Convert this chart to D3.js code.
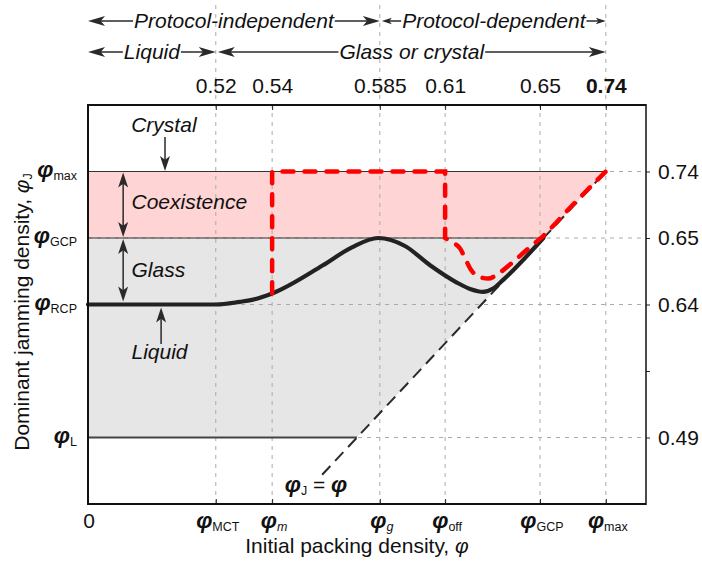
<!DOCTYPE html>
<html><head><meta charset="utf-8">
<script src="https://cdn.jsdelivr.net/npm/d3@7"></script>
<style>
body{margin:0;background:#fff}
svg{display:block}
text{font-family:"Liberation Sans",Arial,Helvetica,sans-serif;fill:#111}
</style></head>
<body><svg id="c" width="702" height="563"></svg>
<script>
// ---------- data (schematic units: x in % of plot width, y in levels) ----------
const xTickPos      = [0, 22.9, 33.0, 52.3, 64.0, 81.0, 92.8];
const xTickSubs     = ["", "MCT", "m", "g", "off", "GCP", "max"];
const xTickSubItal  = [false, false, true, true, false, false, false];
const xTopLabels    = ["", "0.52", "0.54", "0.585", "0.61", "0.65", "0.74"];
const yLevels       = [1, 2, 3, 4, 5];
const yRightLabels  = ["0.49", "", "0.64", "0.65", "0.74"];
const yLeftSubs     = ["L", null, "RCP", "GCP", "max"];

const jammingCurve = [[0,3],[11,3],[22.9,3],[27.2,3.04],[29.4,3.07],[33.1,3.17],[42.1,3.59],[47.3,3.86],
  [52.0,4.0],[56.8,3.88],[61.3,3.59],[66.1,3.33],[68.6,3.23],[70.8,3.19],[72.6,3.24],[74.4,3.37],[81.6,4.0]];
const protocolStep   = [[33.0,3.17],[33.0,5],[64.0,5],[64.0,4.0]];
const protocolSmooth = [[64.0,4.0],[65.2,3.94],[66.7,3.84],[67.6,3.69],[68.5,3.54],[70.0,3.42],[71.7,3.39],
  [73.8,3.48],[75.9,3.62],[78.6,3.82],[81.3,4.01],[86.9,4.5],[92.8,5.0]];
const diagonalLine   = [[41.96,0.44],[92.8,5]];
const glassRegion    = [[0,1],[0,4],[81.6,4],[48.2,1]];
const coexRegion     = [[0,4],[0,5],[92.8,5],[81.6,4]];

// ---------- setup ----------
const svg = d3.select("#c");
const x = d3.scaleLinear().domain([0,100]).range([88,646]);
const y = d3.scaleLinear().domain([0,6]).range([504,105]);
const line = d3.line().x(d=>x(d[0])).y(d=>y(d[1]));
const FS = 21, PHI = 23, SUB = 12.5;

// fills
svg.append("path").attr("d", line(glassRegion)+"Z").attr("fill","#e6e6e6");
svg.append("path").attr("d", line(coexRegion)+"Z").attr("fill","#ffd4d4");

// gridlines
const grid = svg.append("g").attr("stroke","#aaa").attr("stroke-width",1).attr("stroke-dasharray","4,5");
xTickPos.slice(1).forEach((v,i)=>{
  const ext = (i===0||i===2||i===5);
  grid.append("line").attr("x1",x(v)).attr("x2",x(v)).attr("y1",y(0)).attr("y2", ext?0:y(6));
});
[1,3,4,5].forEach(v=>{
  grid.append("line").attr("x1",x(0)).attr("x2",x(100)).attr("y1",y(v)).attr("y2",y(v));
});

// boundary lines
svg.append("line").attr("x1",x(0)).attr("x2",x(92.8)).attr("y1",y(5)).attr("y2",y(5)).attr("stroke","#333").attr("stroke-width",1.2);
svg.append("line").attr("x1",x(0)).attr("x2",x(81.6)).attr("y1",y(4)).attr("y2",y(4)).attr("stroke","#333").attr("stroke-width",1.2);
svg.append("line").attr("x1",x(0)).attr("x2",x(48.2)).attr("y1",y(1)).attr("y2",y(1)).attr("stroke","#444").attr("stroke-width",2);

// diagonal phi_J = phi
svg.append("path").attr("d", line(diagonalLine)).attr("fill","none").attr("stroke","#2a2a2a")
  .attr("stroke-width",2).attr("stroke-dasharray","12,7");

// black curve
const lineS = d3.line().x(d=>x(d[0])).y(d=>y(d[1])).curve(d3.curveMonotoneX);
svg.append("path").attr("d", lineS(jammingCurve)).attr("fill","none")
  .attr("stroke","#222").attr("stroke-width",4.2).attr("stroke-linecap","round");

// red dashed
const redD = line(protocolStep) + lineS(protocolSmooth).replace(/^M[^A-Za-z]*/,"");
svg.append("path").attr("d", redD).attr("fill","none").attr("stroke","#ff0000")
  .attr("stroke-width",4.5).attr("stroke-dasharray","11,11").attr("stroke-linecap","round");

// ---------- arrows ----------
function arrow(g, x1,y1,x2,y2, hl, hw, both){
  const col="#2a2a2a";
  const head=(ax,ay,bx,by)=>{
    const dx=bx-ax, dy=by-ay, L=Math.hypot(dx,dy), ux=dx/L, uy=dy/L;
    const px=-uy, py=ux;
    const b1x=bx-ux*hl, b1y=by-uy*hl;
    g.append("path").attr("d",`M${bx},${by}L${b1x+px*hw},${b1y+py*hw}L${b1x+ux*hl*0.25},${b1y+uy*hl*0.25}L${b1x-px*hw},${b1y-py*hw}Z`).attr("fill",col);
  };
  const dx=x2-x1, dy=y2-y1, L=Math.hypot(dx,dy);
  const s = both? hl*0.7 : 0;
  g.append("line").attr("x1",x1+dx/L*s).attr("y1",y1+dy/L*s).attr("x2",x2-dx/L*hl*0.7).attr("y2",y2-dy/L*hl*0.7)
    .attr("stroke",col).attr("stroke-width",1.5);
  head(x1,y1,x2,y2);
  if(both) head(x2,y2,x1,y1);
}
const ann = svg.append("g");

// inner annotations
function itext(t, xx, yy, anchor){
  return ann.append("text").attr("x",xx).attr("y",yy).attr("font-size",FS).attr("font-style","italic")
    .attr("text-anchor",anchor||"start").text(t);
}
itext("Crystal", x(13.6), 132, "middle");
arrow(ann, x(13.8), 137, x(13.8), y(5)-0.5, 15, 5, false);
arrow(ann, x(6.3), y(5)+1, x(6.3), y(4)-1, 15, 5, true);
arrow(ann, x(6.3), y(4)+1, x(6.3), y(3)-3, 15, 5, true);
itext("Coexistence", 131.5, 209);
itext("Glass", 131.5, 277);
itext("Liquid", 131.5, 359);
arrow(ann, x(13.1), 344, x(13.1), y(3)+3, 15, 5, false);

// top annotation rows
function labeledArrow(t, xa, xb, yy, base, hl, hw, hl2, hw2){
  const tx = ann.append("text").attr("x",(xa+xb)/2).attr("y",base).attr("font-size",FS)
    .attr("font-style","italic").attr("text-anchor","middle").text(t);
  const w = tx.node().getComputedTextLength();
  const l = (xa+xb)/2 - w/2 - 1, r = (xa+xb)/2 + w/2 + 1;
  arrow(ann, l, yy, xa, yy, hl, hw, false);
  arrow(ann, r, yy, xb, yy, hl2||hl, hw2||hw, false);
}
labeledArrow("Protocol-independent", x(0), x(52.3), 21, 28, 17, 5);
labeledArrow("Protocol-dependent", x(52.3)+2, x(92.8), 21, 28, 10, 3.2);
labeledArrow("Liquid", x(0), x(22.9), 52, 59, 17, 5);
labeledArrow("Glass or crystal", x(22.9)+2, x(92.8), 52, 59, 17, 5);

// ---------- axes / frame ----------
const axT = svg.append("g").attr("transform",`translate(0,${y(6)})`)
  .call(d3.axisTop(x).tickValues(xTickPos).tickSize(-5).tickPadding(12).tickFormat((d,i)=>xTopLabels[i]));
axT.select(".domain").remove();
axT.selectAll("text").attr("font-size",FS).attr("fill","#111").attr("font-family",null)
  .attr("font-weight",(d,i)=>i===6?"bold":null);
axT.selectAll("line").attr("stroke","#222");

const axB = svg.append("g").attr("transform",`translate(0,${y(0)})`)
  .call(d3.axisBottom(x).tickValues(xTickPos).tickSize(-5).tickFormat(""));
axB.select(".domain").remove();
axB.selectAll("line").attr("stroke","#222");

const axR = svg.append("g").attr("transform",`translate(${x(100)},0)`)
  .call(d3.axisRight(y).tickValues(yLevels).tickSize(4).tickPadding(8).tickFormat((d,i)=>yRightLabels[i]));
axR.select(".domain").remove();
axR.selectAll("text").attr("font-size",FS).attr("fill","#111").attr("font-family",null);
axR.selectAll("line").attr("stroke","#222");

// frame
svg.append("line").attr("x1",x(0)).attr("x2",x(100)).attr("y1",y(6)).attr("y2",y(6)).attr("stroke","#111").attr("stroke-width",2);
svg.append("line").attr("x1",x(0)).attr("x2",x(100)).attr("y1",y(0)).attr("y2",y(0)).attr("stroke","#111").attr("stroke-width",2);
svg.append("line").attr("x1",x(0)).attr("x2",x(0)).attr("y1",y(6)-1).attr("y2",y(0)+1).attr("stroke","#111").attr("stroke-width",2);
svg.append("line").attr("x1",x(100)).attr("x2",x(100)).attr("y1",y(6)-1).attr("y2",y(0)+1).attr("stroke","#111").attr("stroke-width",1.5);

// phi labels
function phiLabel(g, xx, yy, sub, subItal, anchor){
  const t = g.append("text").attr("x",xx).attr("y",yy).attr("font-size",FS).attr("text-anchor",anchor);
  t.append("tspan").attr("font-size",PHI).attr("font-weight","bold").attr("font-style","italic").text("φ");
  if(sub) t.append("tspan").attr("font-size",SUB).attr("dy",3).attr("font-style",subItal?"italic":null).text(sub);
  return t;
}
const lab = svg.append("g");
xTickPos.forEach((v,i)=>{
  if(i===0) lab.append("text").attr("x",x(v)+1).attr("y",528).attr("font-size",FS).attr("text-anchor","middle").text("0");
  else phiLabel(lab, x(v)+2, 528, xTickSubs[i], xTickSubItal[i], "middle");
});
yLevels.forEach((v,i)=>{
  if(yLeftSubs[i]) phiLabel(lab, 77, y(v)+5, yLeftSubs[i], false, "end");
});
// phi_J = phi
const pj = lab.append("text").attr("x",316).attr("y",492).attr("font-size",FS).attr("text-anchor","middle");
pj.append("tspan").attr("font-size",PHI).attr("font-weight","bold").attr("font-style","italic").text("φ");
pj.append("tspan").attr("font-size",SUB).attr("dy",3).text("J");
pj.append("tspan").attr("dy",-3).text(" = ");
pj.append("tspan").attr("font-size",PHI).attr("font-weight","bold").attr("font-style","italic").text("φ");

// axis titles
const xt = lab.append("text").attr("x",357).attr("y",553).attr("font-size",FS).attr("text-anchor","middle");
xt.append("tspan").text("Initial packing density, ");
xt.append("tspan").attr("font-style","italic").text("φ");
const yt = lab.append("text").attr("transform","translate(29,312) rotate(-90)").attr("font-size",FS).attr("text-anchor","middle");
yt.append("tspan").text("Dominant jamming density, ");
yt.append("tspan").attr("font-style","italic").text("φ");
yt.append("tspan").attr("font-size",SUB).attr("dy",3).text("J");
</script></body></html>
